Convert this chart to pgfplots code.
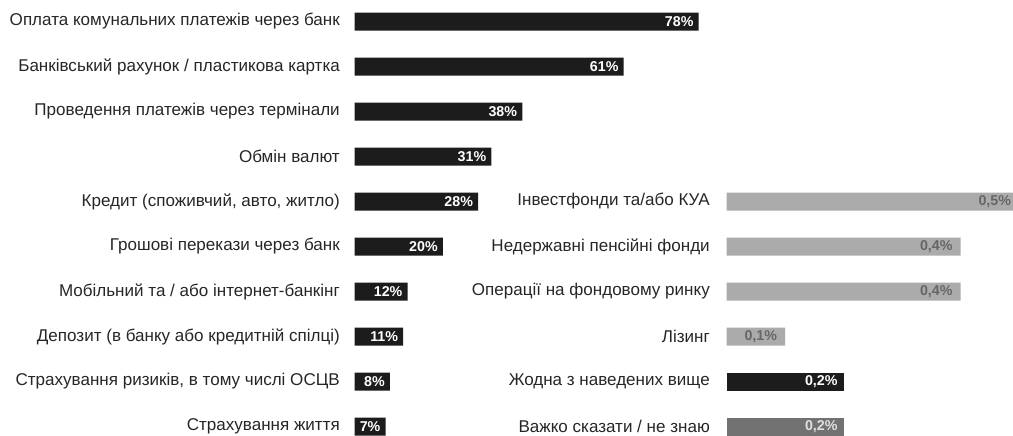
\documentclass[border=0pt]{standalone}
\usepackage{pgfplots}
\pgfplotsset{compat=1.18}
\usepackage{fontspec}
\setmainfont{Liberation Sans}
\definecolor{barblack}{HTML}{1C1C1C}
\definecolor{barlight}{HTML}{ABABAB}
\definecolor{bardark}{HTML}{727272}
\definecolor{txt}{HTML}{262626}
\begin{document}
\begin{tikzpicture}
\useasboundingbox (0bp,0bp) rectangle (1013bp,436bp);
\pgfplotsset{
  panel/.style={
    scale only axis, height=450bp, ymin=0.5, ymax=10.5, y dir=reverse,
    xmin=0, axis line style={draw=none}, major tick length=0pt,
    xtick=\empty, anchor=north west,
    yticklabel style={anchor=east, inner sep=0pt, font=\fontsize{17.1}{19}\selectfont, text=txt},
    xbar, bar width=18bp,
    every node near coord/.append style={anchor=east, inner sep=0pt,
      font=\bfseries\fontsize{14.3}{15}\selectfont},
  }
}
\begin{axis}[panel, at={(354.7bp,437bp)}, width=352.8bp, xmax=80,
  ytick={1,...,10},
  yticklabel style={xshift=-14.7bp},
  yticklabels={Оплата комунальних платежів через банк,
    Банківський рахунок / пластикова картка,
    Проведення платежів через термінали,
    Обмін валют,
    {Кредит (споживчий, авто, житло)},
    Грошові перекази через банк,
    Мобільний та / або інтернет-банкінг,
    Депозит (в банку або кредитній спілці),
    {Страхування ризиків, в тому числі ОСЦВ},
    Страхування життя},
  nodes near coords={\pgfmathprintnumber[assume math mode=true]{\pgfplotspointmeta}\%},
  every node near coord/.append style={xshift=-5bp, text=white},
]
\addplot[fill=barblack, draw=none, bar shift=0pt] coordinates {
  (78,1) (61,2) (38,3) (31,4) (28,5) (20,6) (12,7) (11,8) (8,9) (7,10)};
\end{axis}
\begin{axis}[panel, at={(726.7bp,437bp)}, width=292.5bp, xmax=0.5,
  ytick={5,...,10},
  yticklabel style={xshift=-16.7bp},
  yticklabels={Інвестфонди та/або КУА,
    Недержавні пенсійні фонди,
    Операції на фондовому ринку,
    Лізинг,
    Жодна з наведених вище,
    Важко сказати / не знаю},
  nodes near coords={\pgfmathprintnumber[assume math mode=true,fixed,fixed zerofill,precision=1,use comma]{\pgfplotspointmeta}\%},
]
\addplot[fill=barlight, draw=none, bar shift=0pt,
  every node near coord/.append style={xshift=-8bp, text=black!60}] coordinates {
  (0.5,5) (0.4,6) (0.4,7) (0.1,8)};
\addplot[fill=barblack, draw=none, bar shift=0pt,
  every node near coord/.append style={xshift=-6bp, text=white}] coordinates {
  (0.2,9)};
\addplot[fill=bardark, draw=none, bar shift=0pt,
  every node near coord/.append style={xshift=-6bp, text=black!12}] coordinates {
  (0.2,10)};
\end{axis}
\end{tikzpicture}
\end{document}
